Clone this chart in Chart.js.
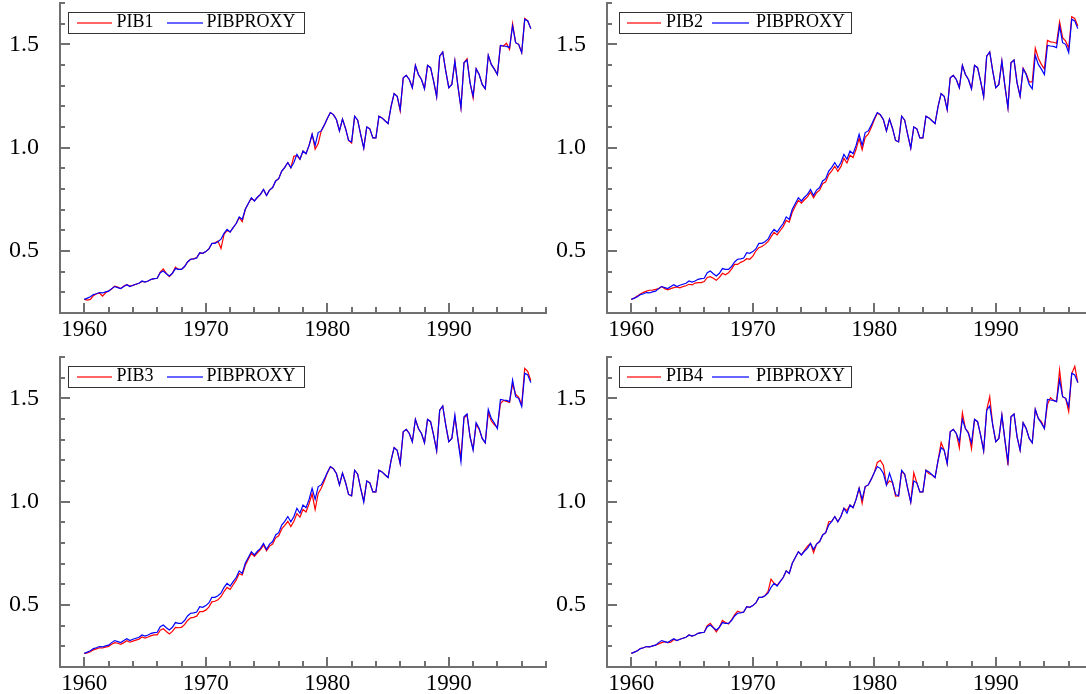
<!DOCTYPE html>
<html>
<head>
<meta charset="utf-8">
<script src="https://cdn.jsdelivr.net/npm/chart.js@4.4.1/dist/chart.umd.min.js"></script>
<style>
html,body{margin:0;padding:0;background:#fff;overflow:hidden;width:1086px;height:694px;position:relative;}
.panel{position:absolute;width:548px;height:347px;}
.panel canvas{position:absolute;left:0;top:0;}
.legend{position:absolute;top:12px;height:20px;border:1px solid #333;background:#fff;
  font-family:"Liberation Serif","Times New Roman",serif;font-size:18px;line-height:18px;color:#000;}
.legend.wide{left:68px;width:235px;}
.legend.narrow{left:72px;width:231px;}
.legend .ln{position:absolute;top:9px;height:2px;}
.legend .tx{position:absolute;top:-1px;white-space:nowrap;}
.wide .l1{left:8px;width:35px;} .wide .t1{left:47.5px;} .wide .l2{left:98px;width:36px;} .wide .t2{left:137.5px;}
.narrow .l1{left:7px;width:34px;} .narrow .t1{left:46px;} .narrow .l2{left:92px;width:37px;} .narrow .t2{left:136px;}
</style>
</head>
<body>
<div class="panel" id="p1" style="left:0;top:0"><canvas id="c1" width="548" height="347"></canvas></div>
<div class="panel" id="p2" style="left:547px;top:0"><canvas id="c2" width="548" height="347"></canvas></div>
<div class="panel" id="p3" style="left:0;top:354px"><canvas id="c3" width="548" height="347"></canvas></div>
<div class="panel" id="p4" style="left:547px;top:354px"><canvas id="c4" width="548" height="347"></canvas></div>
<script>
// ---- data (quarterly, 1960Q1 .. 1996Q4) ----
const startYear = 1960;
const stepYear = 0.25;
const xRange = [1958, 1998];
const yRange = [0.2, 1.7];
const xMajorTicks = [1960, 1970, 1980, 1990];
const yMajorTicks = [0.5, 1.0, 1.5];

const PIBPROXY = [
0.266,0.272,0.279,0.289, 0.293,0.299,0.297,0.302, 0.306,0.318,0.328,0.323, 0.318,0.328,0.337,0.328,
0.334,0.339,0.344,0.355, 0.350,0.355,0.363,0.366, 0.368,0.395,0.403,0.390, 0.379,0.392,0.415,0.411,
0.411,0.425,0.447,0.460, 0.462,0.466,0.492,0.489, 0.497,0.510,0.537,0.537, 0.545,0.557,0.585,0.605,
0.592,0.613,0.633,0.665, 0.653,0.702,0.730,0.758, 0.742,0.760,0.774,0.798, 0.769,0.795,0.807,0.839,
0.850,0.887,0.905,0.928, 0.903,0.928,0.968,0.944, 0.984,0.971,1.011,1.065, 1.011,1.073,1.081,1.109,
1.141,1.170,1.160,1.136, 1.081,1.138,1.093,1.035, 1.028,1.152,1.133,1.063, 0.998,1.100,1.091,1.047,
1.047,1.152,1.144,1.130, 1.117,1.200,1.262,1.249, 1.184,1.338,1.350,1.330, 1.290,1.398,1.354,1.330,
1.285,1.398,1.387,1.322, 1.246,1.443,1.463,1.370, 1.290,1.306,1.419,1.298, 1.193,1.411,1.424,1.314,
1.249,1.382,1.354,1.306, 1.285,1.447,1.403,1.380, 1.354,1.495,1.492,1.490, 1.484,1.589,1.508,1.500,
1.460,1.621,1.613,1.576
];

const PIB1 = [
0.266,0.262,0.266,0.284, 0.293,0.296,0.282,0.298, 0.306,0.316,0.330,0.325, 0.318,0.330,0.337,0.330,
0.334,0.339,0.344,0.353, 0.350,0.355,0.362,0.366, 0.368,0.398,0.413,0.392, 0.376,0.392,0.422,0.411,
0.411,0.425,0.447,0.460, 0.462,0.468,0.490,0.489, 0.497,0.510,0.535,0.540, 0.548,0.512,0.580,0.600,
0.592,0.613,0.633,0.662, 0.642,0.702,0.730,0.755, 0.742,0.760,0.774,0.798, 0.769,0.795,0.807,0.839,
0.850,0.887,0.905,0.928, 0.903,0.958,0.962,0.944, 0.984,0.971,1.011,1.065, 0.992,1.020,1.081,1.109,
1.141,1.170,1.160,1.136, 1.081,1.138,1.093,1.035, 1.022,1.152,1.133,1.063, 0.998,1.100,1.091,1.047,
1.047,1.152,1.144,1.130, 1.117,1.200,1.262,1.249, 1.178,1.338,1.350,1.330, 1.290,1.398,1.354,1.330,
1.285,1.398,1.387,1.322, 1.246,1.443,1.463,1.370, 1.290,1.306,1.419,1.298, 1.193,1.411,1.430,1.314,
1.240,1.382,1.354,1.306, 1.285,1.447,1.403,1.380, 1.354,1.495,1.492,1.505, 1.475,1.600,1.508,1.500,
1.460,1.625,1.613,1.576
];

const PIB2 = [
0.266,0.272,0.282,0.292, 0.300,0.306,0.310,0.311, 0.314,0.318,0.328,0.318, 0.312,0.318,0.323,0.326,
0.322,0.328,0.332,0.339, 0.336,0.345,0.347,0.347, 0.352,0.372,0.376,0.368, 0.358,0.372,0.392,0.385,
0.395,0.412,0.435,0.435, 0.445,0.452,0.463,0.460, 0.475,0.500,0.516,0.522, 0.532,0.545,0.568,0.590,
0.578,0.598,0.618,0.648, 0.640,0.688,0.718,0.745, 0.732,0.748,0.762,0.785, 0.758,0.782,0.794,0.825,
0.835,0.870,0.888,0.910, 0.885,0.908,0.948,0.926, 0.963,0.952,0.992,1.045, 0.990,1.050,1.065,1.098,
1.135,1.168,1.158,1.134, 1.081,1.138,1.093,1.035, 1.028,1.152,1.133,1.063, 0.998,1.100,1.091,1.047,
1.047,1.152,1.144,1.130, 1.117,1.200,1.262,1.249, 1.184,1.338,1.350,1.330, 1.290,1.398,1.354,1.330,
1.285,1.398,1.387,1.322, 1.246,1.443,1.463,1.370, 1.290,1.306,1.419,1.298, 1.193,1.411,1.424,1.314,
1.249,1.385,1.358,1.318, 1.318,1.482,1.433,1.403, 1.381,1.519,1.512,1.510, 1.505,1.610,1.532,1.516,
1.481,1.634,1.625,1.589
];

const PIB3 = [
0.266,0.268,0.274,0.283, 0.288,0.293,0.292,0.296, 0.300,0.310,0.318,0.315, 0.310,0.318,0.327,0.320,
0.325,0.330,0.335,0.345, 0.340,0.345,0.352,0.355, 0.355,0.378,0.385,0.372, 0.360,0.372,0.392,0.390,
0.392,0.405,0.425,0.438, 0.440,0.446,0.468,0.468, 0.475,0.490,0.515,0.518, 0.525,0.540,0.565,0.585,
0.575,0.598,0.620,0.652, 0.645,0.692,0.722,0.750, 0.735,0.752,0.768,0.790, 0.762,0.785,0.795,0.825,
0.835,0.868,0.885,0.905, 0.880,0.905,0.942,0.925, 0.962,0.950,0.990,1.038, 0.962,1.040,1.065,1.100,
1.138,1.168,1.160,1.136, 1.081,1.138,1.093,1.035, 1.028,1.152,1.133,1.063, 1.005,1.100,1.091,1.047,
1.047,1.152,1.144,1.130, 1.117,1.200,1.262,1.249, 1.184,1.338,1.350,1.330, 1.290,1.398,1.354,1.330,
1.285,1.398,1.387,1.322, 1.246,1.443,1.463,1.370, 1.290,1.306,1.410,1.305, 1.215,1.405,1.420,1.314,
1.255,1.375,1.350,1.306, 1.285,1.430,1.390,1.372, 1.360,1.475,1.490,1.485, 1.480,1.570,1.520,1.505,
1.470,1.645,1.630,1.585
];

const PIB4 = [
0.266,0.272,0.279,0.289, 0.293,0.299,0.297,0.302, 0.306,0.312,0.318,0.323, 0.318,0.320,0.333,0.328,
0.334,0.339,0.344,0.355, 0.350,0.355,0.363,0.366, 0.368,0.400,0.411,0.392, 0.370,0.392,0.425,0.415,
0.408,0.428,0.452,0.470, 0.465,0.466,0.492,0.489, 0.497,0.510,0.537,0.537, 0.545,0.565,0.625,0.605,
0.595,0.613,0.633,0.665, 0.653,0.702,0.730,0.758, 0.742,0.765,0.785,0.798, 0.753,0.795,0.807,0.839,
0.850,0.903,0.905,0.928, 0.903,0.928,0.968,0.957, 0.984,0.971,1.011,1.065, 0.992,1.073,1.081,1.109,
1.141,1.190,1.200,1.175, 1.081,1.100,1.093,1.027, 1.028,1.145,1.133,1.063, 0.998,1.140,1.091,1.047,
1.047,1.152,1.135,1.130, 1.117,1.200,1.286,1.249, 1.184,1.338,1.350,1.330, 1.260,1.430,1.354,1.335,
1.256,1.398,1.387,1.322, 1.246,1.443,1.508,1.370, 1.290,1.306,1.419,1.298, 1.177,1.411,1.424,1.314,
1.249,1.382,1.354,1.306, 1.285,1.447,1.403,1.388, 1.354,1.470,1.503,1.490, 1.484,1.637,1.508,1.500,
1.436,1.620,1.655,1.576
];

const panels = [
  {canvas: 'c1', panel: 'p1', label: 'PIB1', values: PIB1, legend: 'wide'},
  {canvas: 'c2', panel: 'p2', label: 'PIB2', values: PIB2, legend: 'narrow'},
  {canvas: 'c3', panel: 'p3', label: 'PIB3', values: PIB3, legend: 'wide'},
  {canvas: 'c4', panel: 'p4', label: 'PIB4', values: PIB4, legend: 'narrow'}
];

// ---- rendering ----
const RED = '#ff0000', BLUE = '#0000ff', AXIS = '#707070';
const FONT = {family: "'Liberation Serif','Times New Roman',serif", size: 23};

function toXY(arr) { return arr.map((v, i) => ({x: startYear + i * stepYear, y: v})); }
function minorTicks(a, b, step, dec) {
  const out = [];
  for (let k = 0; a + k * step <= b + 1e-9; k++) out.push({value: +(a + k * step).toFixed(dec)});
  return out;
}
function fixSize(prop, size) {
  return s => {
    s[prop] = size;
    s.paddingTop = 0; s.paddingBottom = 0; s.paddingLeft = 0; s.paddingRight = 0;
  };
}

function makeLegend(p) {
  const host = document.getElementById(p.panel);
  const box = document.createElement('div');
  box.className = 'legend ' + p.legend;
  const items = [
    ['ln l1', RED], ['tx t1', null, p.label],
    ['ln l2', BLUE], ['tx t2', null, 'PIBPROXY']
  ];
  items.forEach(([cls, col, txt]) => {
    const el = document.createElement('div');
    el.className = cls;
    if (col) el.style.background = col === RED ? 'rgba(255,0,0,0.6)' : 'rgba(0,0,255,0.6)';
    if (txt) el.textContent = txt;
    box.appendChild(el);
  });
  host.appendChild(box);
}

function makeChart(p) {
  new Chart(document.getElementById(p.canvas), {
    type: 'line',
    data: {
      datasets: [
        {label: p.label, data: toXY(p.values), borderColor: RED, borderWidth: 1.2,
         pointRadius: 0, tension: 0, fill: false, order: 1},
        {label: 'PIBPROXY', data: toXY(PIBPROXY), borderColor: BLUE, borderWidth: 1.2,
         pointRadius: 0, tension: 0, fill: false, order: 0}
      ]
    },
    options: {
      responsive: false, animation: false, events: [],
      layout: {padding: {left: 0, top: 3, right: 2, bottom: 0}},
      plugins: {legend: {display: false}, tooltip: {enabled: false}},
      scales: {
        x: {
          type: 'linear', position: 'bottom', weight: 1, min: xRange[0], max: xRange[1],
          afterBuildTicks: s => { s.ticks = xMajorTicks.map(v => ({value: v})); },
          ticks: {padding: 13, autoSkip: false, maxRotation: 0, color: '#000', font: FONT,
                  callback: v => String(v)},
          grid: {drawOnChartArea: false, drawTicks: true, tickLength: -10, color: AXIS, lineWidth: 2},
          border: {display: true, color: AXIS, width: 2},
          afterFit: fixSize('height', 34)
        },
        xMinor: {
          type: 'linear', position: 'bottom', weight: 0, min: xRange[0], max: xRange[1],
          afterBuildTicks: s => { s.ticks = minorTicks(xRange[0], xRange[1], 2, 0); },
          ticks: {display: false},
          grid: {drawOnChartArea: false, drawTicks: true, tickLength: -6, color: AXIS, lineWidth: 2},
          border: {display: false},
          afterFit: fixSize('height', 0)
        },
        y: {
          type: 'linear', position: 'left', weight: 1, min: yRange[0], max: yRange[1],
          afterBuildTicks: s => { s.ticks = yMajorTicks.map(v => ({value: v})); },
          ticks: {padding: 31, color: '#000', font: {family: FONT.family, size: 24},
                  callback: v => v.toFixed(1)},
          grid: {drawOnChartArea: false, drawTicks: true, tickLength: -10, color: AXIS, lineWidth: 2},
          border: {display: true, color: AXIS, width: 2},
          afterFit: fixSize('width', 60)
        },
        yMinor: {
          type: 'linear', position: 'left', weight: 0, min: yRange[0], max: yRange[1],
          afterBuildTicks: s => { s.ticks = minorTicks(yRange[0], yRange[1], 0.1, 1); },
          ticks: {display: false},
          grid: {drawOnChartArea: false, drawTicks: true, tickLength: -5, color: AXIS, lineWidth: 2},
          border: {display: false},
          afterFit: fixSize('width', 0)
        }
      }
    }
  });
}

panels.forEach(p => { makeChart(p); makeLegend(p); });
</script>
</body>
</html>
